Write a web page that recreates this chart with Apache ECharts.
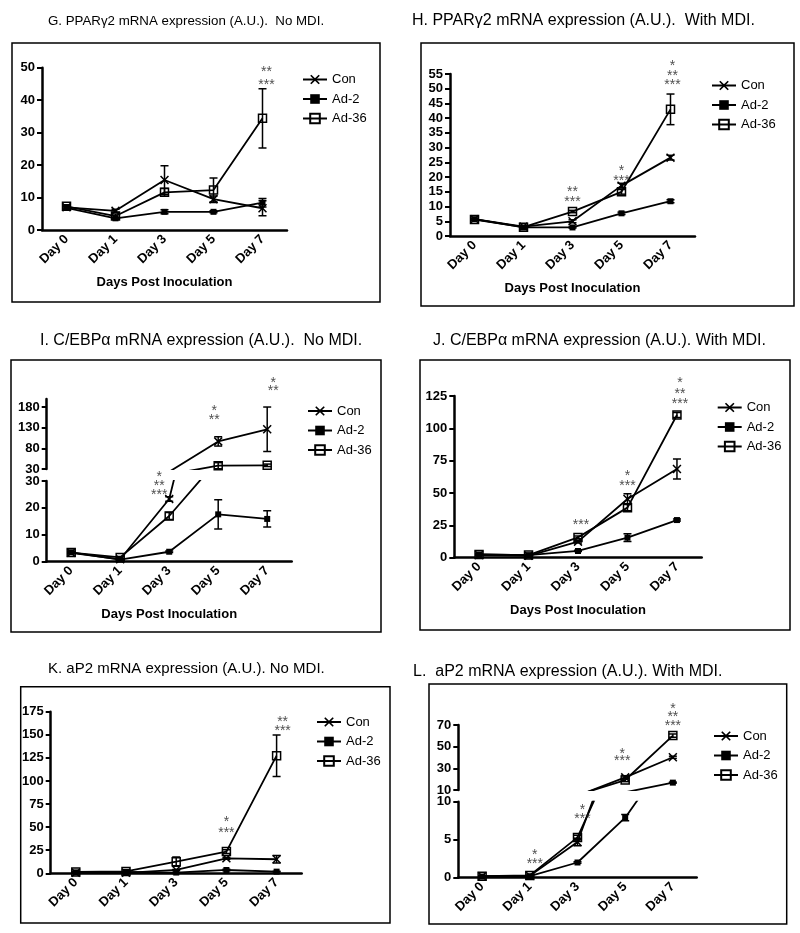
<!DOCTYPE html>
<html><head><meta charset="utf-8">
<script src="https://cdn.jsdelivr.net/npm/echarts@6.0.0/dist/echarts.min.js"></script>
<style>html,body{margin:0;padding:0;background:#fff}#c{width:800px;height:933px}</style>
</head><body><div id="c"></div><script>
// ---------- DATA ----------
const days = ['Day 0', 'Day 1', 'Day 3', 'Day 5', 'Day 7'];
const seriesNames = ['Con', 'Ad-2', 'Ad-36'];

// G. PPARg2, No MDI
const gCon = [7.0, 5.9, 15.4, 9.5, 6.7];     const gConSem = [0.6, 0.5, 4.4, 1.0, 2.3];
const gAd2 = [6.8, 3.6, 5.6, 5.6, 8.4];      const gAd2Sem = [0.4, 0.3, 0.6, 0.3, 1.3];
const gAd36 = [7.3, 4.3, 11.6, 12.3, 34.4];  const gAd36Sem = [0.5, 0.6, 1.2, 3.7, 9.1];
const gTicks = [0, 10, 20, 30, 40, 50];
const annG = [[4, 49.6, '**'], [4, 45.6, '***']];

// H. PPARg2, With MDI
const hCon = [5.7, 3.2, 5.0, 17.1, 26.6];    const hConSem = [0.3, 0.2, 0.5, 0.8, 0.8];
const hAd2 = [5.7, 2.9, 2.9, 7.7, 11.8];     const hAd2Sem = [0.3, 0.2, 0.2, 0.4, 0.5];
const hAd36 = [5.6, 3.0, 8.3, 15.0, 43.0];   const hAd36Sem = [0.3, 0.2, 0.4, 0.8, 5.2];
const hTicks = [0, 5, 10, 15, 20, 25, 30, 35, 40, 45, 50, 55];
const annH = [[2, 15.8, '**'], [2, 12.5, '***'], [3, 23.0, '*'], [3, 19.8, '***'],
              [4, 58.6, '*'], [4, 55.4, '**'], [4, 52.4, '***']];

// I. C/EBPa, No MDI (broken axis)
const iCon = [3.3, 0.9, 23.3, 97.0, 126.5];  const iConSem = [0.3, 0.2, 0.8, 11.3, 54];
const iAd2 = [3.5, 0.8, 3.7, 17.6, 15.9];    const iAd2Sem = [0.3, 0.2, 0.3, 5.4, 3.0];
const iAd36 = [3.4, 1.6, 17.0, 38.0, 39.0];  const iAd36Sem = [0.3, 0.3, 1.3, 7.4, 3.0];
const iTicksLow = [0, 10, 20, 30];
const iTicksUp = [30, 80, 130, 180];
const annILow = [[2, 32.6, '*'], [2, 29.1, '**'], [2, 26.0, '***']];
const annIUp = [[3, 177.7, '*'], [3, 155.8, '**'], [4, 246.5, '*'], [4, 226.4, '**']];

// J. C/EBPa, With MDI
const jCon = [2.0, 1.5, 12.4, 45.4, 68.6];   const jConSem = [0.3, 0.3, 1.0, 4.0, 7.7];
const jAd2 = [2.5, 2.0, 5.2, 15.5, 29.1];    const jAd2Sem = [0.3, 0.3, 0.5, 3.0, 0.8];
const jAd36 = [2.5, 2.0, 15.7, 38.7, 110.3]; const jAd36Sem = [0.3, 0.3, 1.0, 2.5, 2.0];
const jTicks = [0, 25, 50, 75, 100, 125];
const annJ = [[2, 27.8, '***'], [3, 65.7, '*'], [3, 58.0, '***'],
              [4, 137.4, '*'], [4, 128.9, '**'], [4, 121.4, '***']];

// K. aP2, No MDI
const kCon = [0.5, 0.5, 3.6, 16.2, 15.2];    const kConSem = [0.2, 0.2, 0.5, 1.0, 4.0];
const kAd2 = [1.0, 1.5, 0.8, 3.6, 1.8];      const kAd2Sem = [0.2, 0.2, 0.2, 0.8, 0.4];
const kAd36 = [1.5, 2.0, 12.6, 23.5, 127.4]; const kAd36Sem = [0.2, 0.3, 5.0, 2.0, 22.5];
const kTicks = [0, 25, 50, 75, 100, 125, 150, 175];
const annK = [[3, 58.8, '*'], [3, 46.9, '***'], [4, 166.7, '**'], [4, 157.0, '***']];

// L. aP2, With MDI (broken axis)
const lCon = [0.2, 0.25, 4.7, 21.7, 40.2];   const lConSem = [0.05, 0.05, 0.5, 1.5, 1.0];
const lAd2 = [0.15, 0.2, 2.0, 7.9, 16.8];    const lAd2Sem = [0.05, 0.05, 0.1, 0.4, 0.5];
const lAd36 = [0.2, 0.3, 5.3, 19.2, 60.2];   const lAd36Sem = [0.05, 0.05, 0.3, 1.5, 1.5];
const lTicksLow = [0, 5, 10];
const lTicksUp = [10, 30, 50, 70];
const annLLow = [[1, 3.34, '*'], [1, 2.20, '***'], [2, 9.34, '*'], [2, 8.16, '***']];
const annLUp = [[3, 46.0, '*'], [3, 39.3, '***'], [4, 87.8, '*'], [4, 80.2, '**'], [4, 72.1, '***']];

const titles = {
  G: 'G. PPARγ2 mRNA expression (A.U.).  No MDI.',
  H: 'H. PPARγ2 mRNA expression (A.U.).  With MDI.',
  I: 'I. C/EBPα mRNA expression (A.U.).  No MDI.',
  J: 'J. C/EBPα mRNA expression (A.U.). With MDI.',
  K: 'K. aP2 mRNA expression (A.U.). No MDI.',
  L: 'L.  aP2 mRNA expression (A.U.). With MDI.'
};
const xTitle = 'Days Post Inoculation';

// ---------- BUILD ----------
const FONT = "'Liberation Sans', Arial, Helvetica, sans-serif";
const option = { animation: false, backgroundColor: '#fff', grid: [], xAxis: [], yAxis: [], series: [], legend: [], graphic: [] };
const X_PATH = 'path://M0,1.2L1.2,0L5,3.8L8.8,0L10,1.2L6.2,5L10,8.8L8.8,10L5,6.2L1.2,10L0,8.8L3.8,5Z';

function addGrid(rect, ticks, opts) {
  const gi = option.grid.length;
  option.grid.push({ left: rect[0], top: rect[1], width: rect[2], height: rect[3] });
  option.xAxis.push({
    type: 'category', gridIndex: gi, data: days, boundaryGap: true, show: opts.showX,
    axisLine: { lineStyle: { color: '#000', width: 2.5 } },
    axisTick: { alignWithLabel: true, length: 5, lineStyle: { color: '#000', width: 2 } },
    axisLabel: { rotate: 45, interval: 0, margin: 7, color: '#000', fontFamily: FONT, fontWeight: 'bold', fontSize: 13 },
    name: opts.xName || '', nameLocation: 'middle', nameGap: 46,
    nameTextStyle: { color: '#000', fontFamily: FONT, fontWeight: 'bold', fontSize: 13 }
  });
  const ya = {
    type: 'value', gridIndex: gi, min: ticks[0], max: opts.max !== undefined ? opts.max : ticks[ticks.length - 1],
    splitLine: { show: false },
    axisLine: { show: true, lineStyle: { color: '#000', width: 2.5 } },
    axisTick: { show: true, length: 5, lineStyle: { color: '#000', width: 2 } },
    axisLabel: { margin: 7, color: '#000', fontFamily: FONT, fontWeight: 'bold', fontSize: 13 }
  };
  if (opts.custom) {
    ya.axisLabel.customValues = ticks;
    ya.axisTick.customValues = ticks;
  } else {
    ya.interval = ticks[1] - ticks[0];
  }
  option.yAxis.push(ya);
  return gi;
}

function errRender(params, api) {
  const i = api.value(0), v = api.value(1), e = api.value(2);
  const hi = api.coord([i, v + e]);
  const lo = api.coord([i, v - e]);
  const w = 4, st = { stroke: '#000', lineWidth: 1.5 };
  return { type: 'group', children: [
    { type: 'line', shape: { x1: hi[0], y1: hi[1], x2: lo[0], y2: lo[1] }, style: st },
    { type: 'line', shape: { x1: hi[0] - w, y1: hi[1], x2: hi[0] + w, y2: hi[1] }, style: st },
    { type: 'line', shape: { x1: lo[0] - w, y1: lo[1], x2: lo[0] + w, y2: lo[1] }, style: st }
  ] };
}

function addSeries(gi, vals, sems) {
  const sty = [
    { symbol: X_PATH, size: 9, fill: '#000', bw: 0 },
    { symbol: 'rect', size: 6, fill: '#000', bw: 0 },
    { symbol: 'rect', size: 8, fill: 'rgba(255,255,255,0)', bw: 1.5 }
  ];
  seriesNames.forEach((nm, k) => {
    option.series.push({
      type: 'custom', xAxisIndex: gi, yAxisIndex: gi, clip: true, silent: true, z: 2,
      renderItem: errRender, data: vals[k].map((v, i) => [i, v, sems[k][i]])
    });
    option.series.push({
      type: 'line', name: nm, xAxisIndex: gi, yAxisIndex: gi, data: vals[k], clip: true, z: 3,
      symbol: sty[k].symbol, symbolSize: sty[k].size, showSymbol: true,
      lineStyle: { color: '#000', width: 1.8 },
      itemStyle: { color: sty[k].fill, borderColor: '#000', borderWidth: sty[k].bw }
    });
  });
}

function addAnn(gi, ann, dx) {
  option.series.push({
    type: 'scatter', xAxisIndex: gi, yAxisIndex: gi, clip: false, silent: true, z: 5,
    symbolSize: 1, itemStyle: { color: 'rgba(0,0,0,0)' },
    data: ann.map((a, k) => ({ value: [a[0], a[1]], name: a[2], label: { offset: [dx ? dx[k] : 0, 3] } })),
    label: { show: true, position: 'inside', formatter: '{b}', fontSize: 14, color: '#222', fontFamily: FONT }
  });
}

function addLegend(left, top) {
  option.legend.push({
    orient: 'vertical', left: left, top: top, padding: 0, itemGap: 6.5, itemWidth: 24, itemHeight: 12,
    data: seriesNames, selectedMode: false,
    textStyle: { color: '#000', fontSize: 13, fontFamily: FONT }
  });
}

function addFrame(x1, y1, x2, y2, title, tx, ty, tsize) {
  option.graphic.push({ type: 'rect', shape: { x: x1, y: y1, width: x2 - x1, height: y2 - y1 },
    style: { fill: 'none', stroke: '#000', lineWidth: 1.5 }, silent: true });
  option.graphic.push({ type: 'text', x: tx, y: ty, silent: true,
    style: { text: title, fill: '#000', font: tsize + 'px ' + FONT, align: 'left', verticalAlign: 'middle' } });
}

// G
let gi = addGrid([42, 67.7, 245, 162.3], gTicks, { showX: true, xName: xTitle });
addSeries(gi, [gCon, gAd2, gAd36], [gConSem, gAd2Sem, gAd36Sem]);
addAnn(gi, annG, [4, 4]);
addLegend(302, 73);
addFrame(12, 43, 380, 302, titles.G, 48, 21, 13.3);

// H
gi = addGrid([450, 74, 245, 162], hTicks, { showX: true, xName: xTitle });
addSeries(gi, [hCon, hAd2, hAd36], [hConSem, hAd2Sem, hAd36Sem]);
addAnn(gi, annH, [0, 0, 0, 0, 2, 2, 2]);
addLegend(711, 79);
addFrame(421, 43, 794, 306, titles.H, 412, 21, 16);

// I (broken)
gi = addGrid([46.7, 399, 245, 70], iTicksUp, { showX: false, custom: true, max: 200 });
addSeries(gi, [iCon, iAd2, iAd36], [iConSem, iAd2Sem, iAd36Sem]);
addAnn(gi, annIUp, [-4, -4, 6, 6]);
gi = addGrid([46.7, 481, 245, 80.7], iTicksLow, { showX: true, xName: xTitle });
addSeries(gi, [iCon, iAd2, iAd36], [iConSem, iAd2Sem, iAd36Sem]);
addAnn(gi, annILow, [-10, -10, -10]);
addLegend(307, 404.5);
addFrame(11, 360, 381, 632, titles.I, 40, 341, 16);

// J
gi = addGrid([454.3, 396, 247.4, 161.7], jTicks, { showX: true, xName: xTitle });
addSeries(gi, [jCon, jAd2, jAd36], [jConSem, jAd2Sem, jAd36Sem]);
addAnn(gi, annJ, [3, 0, 0, 3, 3, 3]);
addLegend(716.7, 401);
addFrame(420, 360, 790, 630, titles.J, 433, 341, 16);

// K
gi = addGrid([50.7, 711.7, 251, 161.6], kTicks, { showX: true });
addSeries(gi, [kCon, kAd2, kAd36], [kConSem, kAd2Sem, kAd36Sem]);
addAnn(gi, annK, [0, 0, 6, 6]);
addLegend(316, 715.5);
addFrame(20.7, 686.7, 390, 923, titles.K, 48, 669, 15);

// L (broken)
gi = addGrid([458.3, 725, 238.4, 65], lTicksUp, { showX: false, custom: true });
addSeries(gi, [lCon, lAd2, lAd36], [lConSem, lAd2Sem, lAd36Sem]);
addAnn(gi, annLUp, [-3, -3, 0, 0, 0]);
gi = addGrid([458.3, 801.7, 238.4, 76], lTicksLow, { showX: true });
addSeries(gi, [lCon, lAd2, lAd36], [lConSem, lAd2Sem, lAd36Sem]);
addAnn(gi, annLLow, [5, 5, 5, 5]);
addLegend(713, 729.5);
addFrame(429, 684, 786.7, 924, titles.L, 413, 672, 16);

const chart = echarts.init(document.getElementById('c'), null, { renderer: 'canvas' });
chart.setOption(option);
</script></body></html>
